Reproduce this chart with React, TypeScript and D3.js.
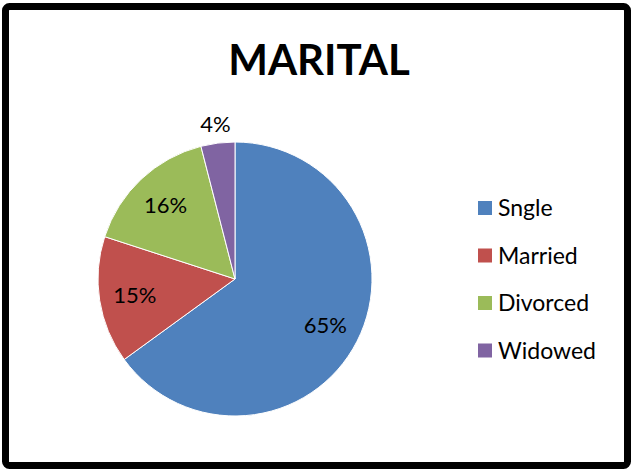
import { useEffect, useRef } from "react";
import * as d3 from "d3";

// Pie of marital status, Excel-2007 palette, legend on the right.

const W = 631;
const H = 469;

const categories = ["Sngle", "Married", "Divorced", "Widowed"];
const values = [65, 15, 16, 4];
const labels = ["65%", "15%", "16%", "4%"];
const colors = ["#4F81BD", "#C0504D", "#9BBB59", "#8064A2"];

const CX = 235;
const CY = 279;
const R = 137;
const FONT = "Lato, 'Open Sans', Arial, sans-serif";

export default function App() {
  const svgRef = useRef<SVGSVGElement>(null);

  useEffect(() => {
    const svg = d3.select(svgRef.current);
    svg.selectAll("*").remove();

    // Marco negro exterior.
    svg
      .append("rect")
      .attr("x", 5.5)
      .attr("y", 6.5)
      .attr("width", W - 9)
      .attr("height", H - 10)
      .attr("rx", 4)
      .attr("fill", "#fff")
      .attr("stroke", "#000")
      .attr("stroke-width", 7);

    svg
      .append("text")
      .attr("x", 319)
      .attr("y", 75)
      .attr("text-anchor", "middle")
      .attr("font-family", FONT)
      .attr("font-weight", "bold")
      .attr("font-size", 42)
      .text("MARITAL");

    const pie = d3
      .pie<number>()
      .sort(null)
      .value((d) => d);
    const arcs = pie(values);
    const arc = d3.arc<d3.PieArcDatum<number>>().innerRadius(0).outerRadius(R);

    const g = svg.append("g").attr("transform", `translate(${CX},${CY})`);
    g.selectAll("path")
      .data(arcs)
      .join("path")
      .attr("d", arc)
      .attr("fill", (_, i) => colors[i])
      .attr("stroke", "#fff")
      .attr("stroke-width", 1);

    // Etiquetas: dentro salvo la porción pequeña, que va fuera.
    const inner = d3.arc<d3.PieArcDatum<number>>().innerRadius(R * 0.74).outerRadius(R * 0.74);
    const outer = d3.arc<d3.PieArcDatum<number>>().innerRadius(R * 1.14).outerRadius(R * 1.14);
    g.selectAll("text")
      .data(arcs)
      .join("text")
      .attr("transform", (d, i) => {
        const [x, y] = (i === 3 ? outer : inner).centroid(d);
        return `translate(${x},${y})`;
      })
      .attr("text-anchor", "middle")
      .attr("dy", "0.35em")
      .attr("font-family", FONT)
      .attr("font-size", 22)
      .attr("fill", "#000")
      .text((_, i) => labels[i]);

    const legend = svg
      .append("g")
      .selectAll("g")
      .data(categories)
      .join("g")
      .attr("transform", (_, i) => `translate(478,${208 + i * 47.5})`);
    legend
      .append("rect")
      .attr("x", 0)
      .attr("y", -7)
      .attr("width", 14)
      .attr("height", 14)
      .attr("fill", (_, i) => colors[i]);
    legend
      .append("text")
      .attr("x", 20)
      .attr("dy", "0.35em")
      .attr("font-family", FONT)
      .attr("font-size", 23)
      .text((d) => d);
  }, []);

  return (
    <svg
      ref={svgRef}
      width={W}
      height={H}
      style={{ position: "absolute", left: 0, top: 0 }}
    />
  );
}
